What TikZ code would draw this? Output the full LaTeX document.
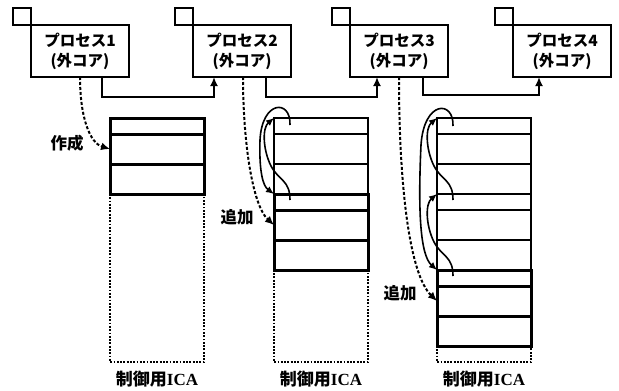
\documentclass[tikz,border=0pt]{standalone}
\usepackage{fontspec}
\newfontfamily\jp{Noto Sans CJK JP}
\newfontfamily\ser{Liberation Serif}
\usetikzlibrary{arrows.meta}
\tikzset{
  pbox/.style={draw, line width=1.8pt, minimum width=98pt, minimum height=52pt, inner sep=0pt, outer sep=0pt,
    align=center, font=\jp\bfseries\fontsize{15.5}{20}\selectfont},
  sqbox/.style={draw, line width=1.8pt, minimum width=18pt, minimum height=17pt, inner sep=0pt, outer sep=0pt, anchor=south east},
  conn/.style={line width=1.8pt, -{Latex[length=9pt,width=8pt]}},
  rowbox/.style={draw, minimum width=94pt, inner sep=0pt, outer sep=0pt},
  oldhdr/.style={rowbox, line width=1.2pt, minimum height=16pt, anchor=north west},
  oldcell/.style={rowbox, line width=1.2pt, minimum height=30pt, anchor=north},
  newhdr/.style={rowbox, line width=3pt, minimum height=16pt, anchor=north west},
  newcell/.style={rowbox, line width=3pt, minimum height=30pt, anchor=north},
  dotbox/.style={line width=2pt, dash pattern=on 1.8pt off 1.5pt},
  dasharr/.style={line width=2pt, dash pattern=on 3pt off 2pt, -{Latex[length=9pt,width=8pt]}},
  curv/.style={line width=1.6pt, -{Latex[length=8pt,width=7pt]}},
  lbl/.style={font=\jp\bfseries\fontsize{16.5}{18}\selectfont, inner sep=0pt},
  ica/.style={font=\fontsize{17}{18}\selectfont, inner sep=0pt}
}
\begin{document}
\begin{tikzpicture}[x=1pt,y=-1pt]
\useasboundingbox (0,0) rectangle (619,391);

% process boxes
\node[pbox] (p1) at (80,51) {プロセス1\\(外コア)};
\node[pbox] (p2) at (242,51) {プロセス2\\(外コア)};
\node[pbox] (p3) at (399,51) {プロセス3\\(外コア)};
\node[pbox] (p4) at (562,51) {プロセス4\\(外コア)};
\node[sqbox] (s1) at (p1.north west) {};
\node[sqbox] (s2) at (p2.north west) {};
\node[sqbox] (s3) at (p3.north west) {};
\node[sqbox] (s4) at (p4.north west) {};

% connectors between processes
\draw[conn] ([xshift=-27pt]p1.south east) -- ++(0,20) -| ([xshift=21pt]p2.south west);
\draw[conn] ([xshift=-25pt]p2.south east) -- ++(0,20) -| ([xshift=27pt]p3.south west);
\draw[conn] ([xshift=-25pt]p3.south east) -- ++(0,18) -| ([xshift=26pt]p4.south west);

% dotted outlines of ICA areas
\draw[dotbox] (110,118) rectangle (204,362);
\draw[dotbox] (274,118) rectangle (368,362);
\draw[dotbox] (437,118) rectangle (531,362);

% stack 1
\node[newhdr] (a1h) at (110,118) {};
\node[newcell] (a1c) at (a1h.south) {};
\node[newcell] (a1d) at (a1c.south) {};

% stack 2
\node[oldhdr] (b1h) at (274,118) {};
\node[oldcell] (b1c) at (b1h.south) {};
\node[oldcell] (b1d) at (b1c.south) {};
\node[newhdr] (b2h) at (b1d.south west) {};
\node[newcell] (b2c) at (b2h.south) {};
\node[newcell] (b2d) at (b2c.south) {};

% stack 3
\node[oldhdr] (c1h) at (437,118) {};
\node[oldcell] (c1c) at (c1h.south) {};
\node[oldcell] (c1d) at (c1c.south) {};
\node[oldhdr] (c2h) at (c1d.south west) {};
\node[oldcell] (c2c) at (c2h.south) {};
\node[oldcell] (c2d) at (c2c.south) {};
\node[newhdr] (c3h) at (c2d.south west) {};
\node[newcell] (c3c) at (c3h.south) {};
\node[newcell] (c3d) at (c3c.south) {};

% link arrows stack 2
\coordinate (b1s) at ([xshift=16pt,yshift=1pt]b1h.west);
\coordinate (b2s) at ([xshift=16pt,yshift=2pt]b2h.west);
\draw[curv] (b1s) .. controls ++(1,-26) and (262,100) .. (260,140) .. controls (259,172) and (263,186) .. (b2h.north west);
\draw[curv] (b2s) .. controls ++(0,-20) and (279,181) .. (271,166) .. controls (263,150) and (262,128) .. (b1h.north west);

% link arrows stack 3
\coordinate (c1s) at ([xshift=16pt,yshift=0pt]c1h.west);
\coordinate (c2s) at ([xshift=16pt,yshift=2pt]c2h.west);
\coordinate (c3s) at ([xshift=16pt,yshift=2pt]c3h.west);
\draw[curv] (c1s) .. controls ++(1,-26) and (424,100) .. (421,145) .. controls (418,210) and (420,255) .. (c3h.north west);
\draw[curv] (c2s) .. controls ++(0,-20) and (442,181) .. (434,166) .. controls (426,150) and (425,128) .. (c1h.north west);
\draw[curv] (c3s) .. controls ++(0,-20) and (442,257) .. (434,242) .. controls (426,226) and (425,204) .. (c2h.north west);

% creation / addition arrows
\draw[dasharr] (p1.south) .. controls (80,118) and (90,143) .. (a1c.west);
\draw[dasharr] ([xshift=1pt]p2.south) .. controls (243,140) and (252,205) .. (b2c.west);
\draw[dasharr] (p3.south) .. controls (399,190) and (410,275) .. (c3c.west);

% labels
\node[lbl] (l1) at (67,143) {作成};
\node[lbl] (l2) at (237,217) {追加};
\node[lbl] (l3) at (400,293) {追加};
\node[ica] (i1) at (157,379) {{\jp\bfseries 制御用}{\ser\bfseries ICA}};
\node[ica] (i2) at (321,379) {{\jp\bfseries 制御用}{\ser\bfseries ICA}};
\node[ica] (i3) at (484,379) {{\jp\bfseries 制御用}{\ser\bfseries ICA}};
\end{tikzpicture}
\end{document}
